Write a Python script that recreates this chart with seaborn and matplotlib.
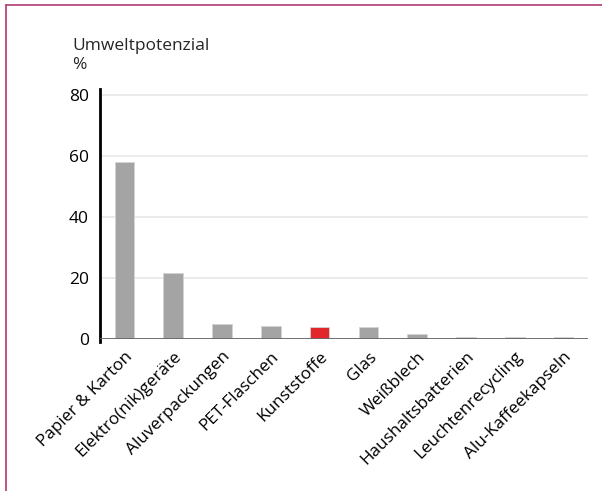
import matplotlib
matplotlib.use("Agg")
import matplotlib.pyplot as plt
from matplotlib.lines import Line2D
import seaborn as sns
import pandas as pd

categories = ["Papier & Karton", "Elektro(nik)geräte", "Aluverpackungen", "PET-Flaschen",
              "Kunststoffe", "Glas", "Weißblech", "Haushaltsbatterien",
              "Leuchtenrecycling", "Alu-Kaffeekapseln"]
values = [58.1, 21.5, 4.9, 4.2, 3.8, 3.8, 1.5, 0.8, 0.8, 0.5]
highlight = "Kunststoffe"
y_ticks = [0, 20, 40, 60, 80]
title_lines = ["Umweltpotenzial", "%"]

sns.set_theme(style="white")
plt.rcParams["font.family"] = ["Open Sans", "DejaVu Sans"]

df = pd.DataFrame({"Kategorie": categories, "Wert": values})
df["Gruppe"] = ["hl" if c == highlight else "std" for c in categories]
palette = {"std": "#a4a4a4", "hl": "#e3262b"}

fig = plt.figure(figsize=(6.02, 4.91), dpi=100)
ax = fig.add_axes([100 / 602, 1 - 339 / 491, 488 / 602, 250 / 491])

sns.barplot(data=df, x="Kategorie", y="Wert", hue="Gruppe", palette=palette,
            dodge=False, width=0.4, legend=False, ax=ax, saturation=1,
            edgecolor="#d4d4d4", linewidth=0.6)

ax.set_xlim(-0.5, len(categories) - 0.5)
ax.set_ylim(0, 82)
ax.set_yticks(y_ticks)
ax.set_xlabel("")
ax.set_ylabel("")

for t in y_ticks[1:]:
    ax.axhline(t, color="#e8e8e8", linewidth=1.2, zorder=0)
ax.axhline(0, color="#666666", linewidth=1.3, zorder=3)

for side in ["top", "right", "bottom"]:
    ax.spines[side].set_visible(False)
ax.spines["left"].set_color("black")
ax.spines["left"].set_linewidth(2)
ax.spines["left"].set_bounds(-1, 82)

ax.tick_params(axis="y", length=0, pad=8, labelsize=12.5, labelcolor="black")
ax.tick_params(axis="x", length=0, pad=7)
ax.set_xticks(range(len(categories)))
ax.set_xticklabels(categories, rotation=45, ha="right", rotation_mode="anchor",
                   fontsize=12.3, color="black")

fig.text(72 / 602, 1 - 46 / 491, title_lines[0], fontsize=12.5, va="center", ha="left")
fig.text(72 / 602, 1 - 65 / 491, title_lines[1], fontsize=12.5, va="center", ha="left")

border = "#b23a72"
fig.add_artist(Line2D([6 / 602, 1], [1 - 5 / 491, 1 - 5 / 491], color=border,
                      linewidth=1.2, transform=fig.transFigure))
fig.add_artist(Line2D([6 / 602, 6 / 602], [0, 1 - 5 / 491], color=border,
                      linewidth=1.2, transform=fig.transFigure))

fig.savefig("out.png", dpi=100)
